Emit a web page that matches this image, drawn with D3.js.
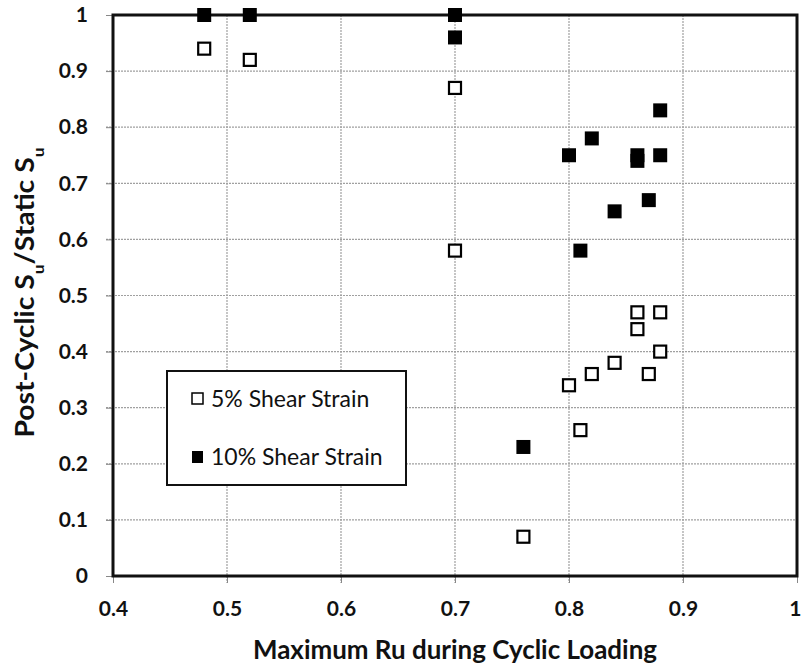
<!DOCTYPE html>
<html>
<head>
<meta charset="utf-8">
<script src="https://cdn.jsdelivr.net/npm/d3@7"></script>
<style>
  body { margin: 0; background: #fff; }
  text { font-family: Lato, "Open Sans", sans-serif; }
</style>
</head>
<body>
<div id="chart"></div>
<script>
// data
var ru5 = [0.48, 0.52, 0.70, 0.70, 0.86, 0.88, 0.86, 0.88, 0.84, 0.82, 0.87, 0.80, 0.81, 0.76];
var su5 = [0.94, 0.92, 0.87, 0.58, 0.47, 0.47, 0.44, 0.40, 0.38, 0.36, 0.36, 0.34, 0.26, 0.07];
var ru10 = [0.48, 0.52, 0.70, 0.70, 0.80, 0.82, 0.86, 0.86, 0.88, 0.88, 0.84, 0.87, 0.81, 0.76];
var su10 = [1.00, 1.00, 1.00, 0.96, 0.75, 0.78, 0.75, 0.74, 0.83, 0.75, 0.65, 0.67, 0.58, 0.23];
var xTicks = [0.4, 0.5, 0.6, 0.7, 0.8, 0.9, 1];
var yTicks = [0, 0.1, 0.2, 0.3, 0.4, 0.5, 0.6, 0.7, 0.8, 0.9, 1];
var seriesNames = ["5% Shear Strain", "10% Shear Strain"];

var margin = {top: 15, right: 5, bottom: 96, left: 113},
    width = 802 - margin.left - margin.right,
    height = 672 - margin.top - margin.bottom;

var svg = d3.select("#chart")
  .append("svg")
    .attr("width", 802)
    .attr("height", 672)
  .append("g")
    .attr("transform", "translate(" + margin.left + "," + margin.top + ")");

var x = d3.scaleLinear().domain([0.4, 1]).range([0, width]);
var y = d3.scaleLinear().domain([0, 1]).range([height, 0]);

// gridlines
svg.append("g")
  .selectAll("line")
  .data(xTicks.slice(1, -1))
  .enter().append("line")
    .attr("x1", d => x(d)).attr("x2", d => x(d))
    .attr("y1", 0).attr("y2", height + 7)
    .attr("stroke", "#a0a0a0").attr("stroke-width", 1.2)
    .attr("stroke-dasharray", "2,1");
svg.append("g")
  .selectAll("line")
  .data(yTicks.slice(1, -1))
  .enter().append("line")
    .attr("x1", -7).attr("x2", width)
    .attr("y1", d => y(d)).attr("y2", d => y(d))
    .attr("stroke", "#a0a0a0").attr("stroke-width", 1.2)
    .attr("stroke-dasharray", "2,1");

// axes (labels only, frame drawn separately)
var xAxis = svg.append("g")
  .attr("transform", "translate(0," + height + ")")
  .call(d3.axisBottom(x).tickValues(xTicks).tickFormat(d3.format("")).tickSize(7).tickPadding(18));
var yAxis = svg.append("g")
  .call(d3.axisLeft(y).tickValues(yTicks).tickFormat(d3.format("")).tickSize(7).tickPadding(18));
[xAxis, yAxis].forEach(function(a) {
  a.select(".domain").remove();
  a.selectAll(".tick line").attr("stroke", "#888");
  a.selectAll("text")
    .style("font-family", "Lato, sans-serif")
    .style("font-size", "21px")
    .style("font-weight", "bold")
    .attr("fill", "#111");
});
// keep the last x label inside the page
xAxis.selectAll(".tick text").filter(d => d === 1)
  .attr("text-anchor", "end").attr("dx", 4);

// frame
svg.append("rect")
  .attr("x", 0).attr("y", 0)
  .attr("width", width).attr("height", height)
  .attr("fill", "none").attr("stroke", "#111").attr("stroke-width", 3);

// points
var s = 12;
svg.append("g")
  .selectAll("rect")
  .data(ru5.map((d, i) => [d, su5[i]]))
  .enter().append("rect")
    .attr("x", d => x(d[0]) - s / 2)
    .attr("y", d => y(d[1]) - s / 2)
    .attr("width", s).attr("height", s)
    .attr("fill", "#fff").attr("stroke", "#000").attr("stroke-width", 2.2);
svg.append("g")
  .selectAll("rect")
  .data(ru10.map((d, i) => [d, su10[i]]))
  .enter().append("rect")
    .attr("x", d => x(d[0]) - (s + 2) / 2)
    .attr("y", d => y(d[1]) - (s + 2) / 2)
    .attr("width", s + 2).attr("height", s + 2)
    .attr("fill", "#000");

// legend
var lg = svg.append("g").attr("transform", "translate(" + (167 - margin.left) + "," + (371 - margin.top) + ")");
lg.append("rect")
  .attr("width", 239).attr("height", 114)
  .attr("fill", "#fff").attr("stroke", "#111").attr("stroke-width", 2);
seriesNames.forEach(function(name, i) {
  var cy = 28 + i * 58;
  if (i === 0) {
    lg.append("rect").attr("x", 25).attr("y", cy - 6).attr("width", 11).attr("height", 11)
      .attr("fill", "#fff").attr("stroke", "#000").attr("stroke-width", 1.5);
  } else {
    lg.append("rect").attr("x", 25).attr("y", cy - 6).attr("width", 11).attr("height", 12)
      .attr("fill", "#000");
  }
  lg.append("text")
    .attr("x", 44).attr("y", cy + 8)
    .style("font-size", "23px")
    .attr("fill", "#111")
    .text(name);
});

// axis titles
svg.append("text")
  .attr("x", width / 2).attr("y", height + 83)
  .attr("text-anchor", "middle")
  .attr("textLength", 404).attr("lengthAdjust", "spacingAndGlyphs")
  .style("font-size", "26px").style("font-weight", "bold")
  .attr("fill", "#111")
  .text("Maximum Ru during Cyclic Loading");

var yt = svg.append("text")
  .attr("transform", "translate(" + (-79) + "," + (height / 2 - 3) + ") rotate(-90)")
  .attr("text-anchor", "middle")
  .attr("textLength", 290).attr("lengthAdjust", "spacingAndGlyphs")
  .style("font-size", "26px").style("font-weight", "bold")
  .attr("fill", "#111");
yt.append("tspan").text("Post-Cyclic S");
yt.append("tspan").attr("baseline-shift", "sub").style("font-size", "16px").text("u");
yt.append("tspan").text("/Static S");
yt.append("tspan").attr("baseline-shift", "sub").style("font-size", "16px").text("u");
</script>
</body>
</html>
